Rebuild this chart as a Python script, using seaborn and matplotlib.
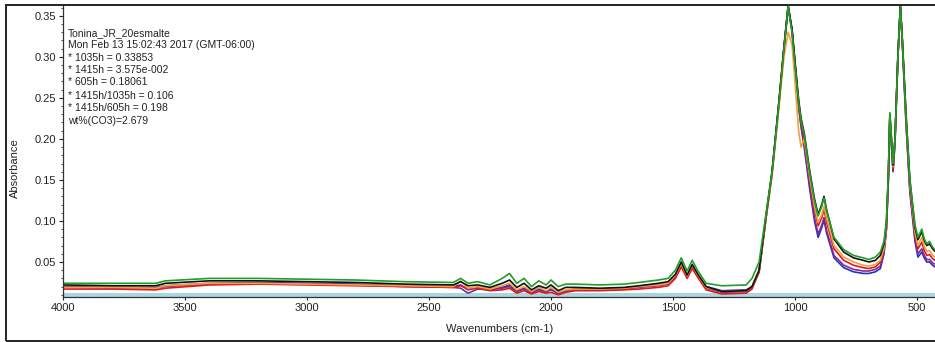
import matplotlib
matplotlib.use("Agg")
import matplotlib.pyplot as plt
from matplotlib.patches import Rectangle
from matplotlib.ticker import MultipleLocator, FormatStrFormatter
import numpy as np
import pandas as pd
import seaborn as sns

# wavenumbers (cm-1) shared by all spectra
wn = [4000, 3800, 3620, 3580, 3400, 3200, 3000, 2800, 2600, 2400,
      2370, 2340, 2300, 2250, 2200, 2170, 2140, 2110, 2080, 2050,
      2020, 2000, 1970, 1940, 1900, 1800, 1700, 1640, 1560, 1520,
      1490, 1466, 1442, 1421, 1400, 1364, 1300, 1200, 1176, 1147,
      1118, 1094, 1065, 1045, 1028, 1012, 1000, 985, 975, 962,
      940, 920, 905, 890, 881, 870, 840, 800, 760, 720,
      697, 670, 650, 635, 625, 617, 611, 604, 598, 590,
      578, 568, 560, 545, 529, 508, 496, 480, 470, 460,
      448, 436, 426]

blue = [0.020, 0.019, 0.019, 0.021, 0.024, 0.025, 0.024, 0.023, 0.021, 0.020,
        0.022, 0.016, 0.019, 0.017, 0.019, 0.022, 0.015, 0.018, 0.013, 0.017,
        0.014, 0.016, 0.012, 0.015, 0.017, 0.017, 0.018, 0.020, 0.022, 0.024,
        0.033, 0.047, 0.032, 0.045, 0.034, 0.020, 0.015, 0.016, 0.020, 0.038,
        0.105, 0.158, 0.245, 0.310, 0.362, 0.332, 0.292, 0.240, 0.215, 0.190,
        0.140, 0.100, 0.080, 0.092, 0.101, 0.085, 0.055, 0.043, 0.038, 0.036,
        0.036, 0.038, 0.042, 0.060, 0.090, 0.150, 0.225, 0.190, 0.160, 0.195,
        0.300, 0.362, 0.318, 0.220, 0.135, 0.075, 0.056, 0.062, 0.055, 0.050,
        0.050, 0.046, 0.044]

purple = [0.019, 0.018, 0.018, 0.020, 0.023, 0.024, 0.023, 0.022, 0.020, 0.019,
          0.018, 0.012, 0.017, 0.016, 0.018, 0.020, 0.014, 0.017, 0.012, 0.016,
          0.013, 0.018, 0.011, 0.014, 0.016, 0.016, 0.017, 0.019, 0.021, 0.023,
          0.032, 0.046, 0.031, 0.044, 0.033, 0.018, 0.013, 0.014, 0.019, 0.038,
          0.105, 0.157, 0.244, 0.310, 0.360, 0.332, 0.292, 0.240, 0.216, 0.193,
          0.144, 0.104, 0.084, 0.095, 0.104, 0.088, 0.058, 0.046, 0.041, 0.039,
          0.039, 0.041, 0.045, 0.062, 0.091, 0.151, 0.226, 0.191, 0.161, 0.196,
          0.300, 0.361, 0.319, 0.222, 0.138, 0.079, 0.060, 0.066, 0.058, 0.053,
          0.053, 0.049, 0.047]

red = [0.017, 0.017, 0.016, 0.018, 0.022, 0.023, 0.022, 0.021, 0.020, 0.019,
       0.021, 0.017, 0.018, 0.015, 0.016, 0.018, 0.012, 0.015, 0.011, 0.014,
       0.012, 0.013, 0.010, 0.013, 0.015, 0.015, 0.016, 0.017, 0.019, 0.021,
       0.030, 0.044, 0.030, 0.042, 0.032, 0.016, 0.011, 0.012, 0.017, 0.038,
       0.106, 0.158, 0.246, 0.312, 0.362, 0.333, 0.293, 0.244, 0.220, 0.200,
       0.152, 0.114, 0.094, 0.104, 0.114, 0.098, 0.066, 0.052, 0.046, 0.043,
       0.042, 0.044, 0.050, 0.066, 0.094, 0.154, 0.228, 0.194, 0.164, 0.198,
       0.301, 0.362, 0.320, 0.226, 0.142, 0.083, 0.066, 0.074, 0.064, 0.058,
       0.059, 0.054, 0.052]

orange = [0.019, 0.019, 0.018, 0.021, 0.024, 0.024, 0.023, 0.022, 0.021, 0.020,
          0.027, 0.018, 0.020, 0.017, 0.021, 0.024, 0.016, 0.020, 0.014, 0.019,
          0.015, 0.019, 0.013, 0.016, 0.017, 0.017, 0.018, 0.020, 0.022, 0.024,
          0.034, 0.048, 0.033, 0.046, 0.035, 0.019, 0.014, 0.015, 0.020, 0.040,
          0.105, 0.155, 0.240, 0.300, 0.330, 0.315, 0.270, 0.210, 0.190, 0.200,
          0.155, 0.118, 0.098, 0.108, 0.118, 0.103, 0.070, 0.056, 0.050, 0.046,
          0.045, 0.047, 0.052, 0.067, 0.094, 0.155, 0.228, 0.195, 0.166, 0.198,
          0.300, 0.358, 0.320, 0.228, 0.145, 0.086, 0.070, 0.080, 0.069, 0.063,
          0.064, 0.058, 0.056]

black = [0.022, 0.021, 0.021, 0.024, 0.027, 0.027, 0.026, 0.025, 0.023, 0.022,
         0.026, 0.021, 0.022, 0.019, 0.024, 0.028, 0.019, 0.024, 0.016, 0.021,
         0.018, 0.022, 0.015, 0.019, 0.019, 0.018, 0.019, 0.021, 0.024, 0.026,
         0.035, 0.050, 0.034, 0.047, 0.036, 0.020, 0.014, 0.015, 0.020, 0.040,
         0.108, 0.160, 0.248, 0.312, 0.362, 0.334, 0.295, 0.248, 0.225, 0.207,
         0.162, 0.127, 0.108, 0.120, 0.130, 0.113, 0.078, 0.062, 0.055, 0.052,
         0.050, 0.052, 0.058, 0.072, 0.098, 0.158, 0.230, 0.198, 0.168, 0.200,
         0.302, 0.362, 0.322, 0.232, 0.150, 0.092, 0.077, 0.087, 0.076, 0.070,
         0.072, 0.066, 0.063]

green = [0.024, 0.024, 0.024, 0.027, 0.030, 0.030, 0.029, 0.028, 0.026, 0.025,
         0.030, 0.024, 0.026, 0.022, 0.030, 0.036, 0.024, 0.030, 0.020, 0.027,
         0.022, 0.028, 0.020, 0.023, 0.023, 0.022, 0.023, 0.025, 0.028, 0.030,
         0.040, 0.055, 0.039, 0.052, 0.040, 0.024, 0.021, 0.022, 0.030, 0.050,
         0.110, 0.160, 0.245, 0.310, 0.362, 0.330, 0.290, 0.245, 0.222, 0.205,
         0.160, 0.125, 0.106, 0.118, 0.128, 0.112, 0.080, 0.065, 0.058, 0.055,
         0.053, 0.056, 0.062, 0.075, 0.100, 0.160, 0.232, 0.200, 0.170, 0.200,
         0.300, 0.362, 0.320, 0.230, 0.150, 0.095, 0.080, 0.090, 0.078, 0.072,
         0.075, 0.068, 0.065]

series = {"blue": blue, "purple": purple, "red": red, "orange": orange,
          "black": black, "green": green}
colors = {"blue": "#2a2fc0", "purple": "#7b2d96", "red": "#e3171d",
          "orange": "#f2a23a", "black": "#111111", "green": "#1f9e2a"}

info_lines = ["Tonina_JR_20esmalte",
              "Mon Feb 13 15:02:43 2017 (GMT-06:00)",
              "* 1035h = 0.33853",
              "* 1415h = 3.575e-002",
              "* 605h = 0.18061",
              "* 1415h/1035h = 0.106",
              "* 1415h/605h = 0.198",
              "wt%(CO3)=2.679"]

df = pd.concat([pd.DataFrame({"wn": wn, "abs": v, "spec": k}) for k, v in series.items()])

sns.set_theme(style="ticks")
plt.rcParams['font.family'] = ['Liberation Sans', 'DejaVu Sans']

W, H = 935, 342
fig = plt.figure(figsize=(W / 100, H / 100), dpi=100)
ax = fig.add_axes([63 / W, 1 - 297 / H, (W - 63) / W, (297 - 6) / H])

# cyan baseline band
ax.axhline(0.0098, color="#a9d6df", lw=3.0, zorder=1)

sns.lineplot(data=df, x="wn", y="abs", hue="spec", palette=colors,
             estimator=None, sort=False, lw=1.2, legend=False, ax=ax, zorder=2)

ax.set_xlim(4000, 426)
ax.set_ylim(0.0073, 0.362)
ax.set_xlabel("")
ax.set_ylabel("")
sns.despine(ax=ax, top=True, right=True)
for s in ["left", "bottom"]:
    ax.spines[s].set_color("#333333")
    ax.spines[s].set_linewidth(0.9)

ax.xaxis.set_major_locator(MultipleLocator(500))
ax.xaxis.set_minor_locator(MultipleLocator(100))
ax.yaxis.set_major_locator(MultipleLocator(0.05))
ax.yaxis.set_minor_locator(MultipleLocator(0.01))
ax.yaxis.set_major_formatter(FormatStrFormatter("%.2f"))
ax.tick_params(axis="both", which="major", labelsize=8, colors="#222222", length=3, width=0.8, pad=2)
ax.tick_params(axis="x", which="major", direction="inout", length=4)
ax.tick_params(axis="x", which="minor", direction="in", length=2, width=0.6)
ax.tick_params(axis="y", which="minor", direction="out", length=1.5, width=0.6)

# info block
ypix = [33, 45, 58, 70, 82, 96, 108, 121]
for t, yp in zip(info_lines, ypix):
    fig.text(68 / W, 1 - yp / H, t, fontsize=7.5, va="center", ha="left", color="#222222")

fig.text(15 / W, 1 - 168 / H, "Absorbance", rotation=90, fontsize=8, va="center", ha="center", color="#222222")
fig.text(500 / W, 1 - 329 / H, "Wavenumbers (cm-1)", fontsize=8, va="center", ha="center", color="#222222")

# outer frame
fig.patches.append(Rectangle((6 / W, 1 / H), 1 - 6 / W + 0.01, 1 - 6 / H, transform=fig.transFigure,
                             fill=False, edgecolor="#222222", lw=1.4, clip_on=False))

fig.savefig("out.png", dpi=100)
